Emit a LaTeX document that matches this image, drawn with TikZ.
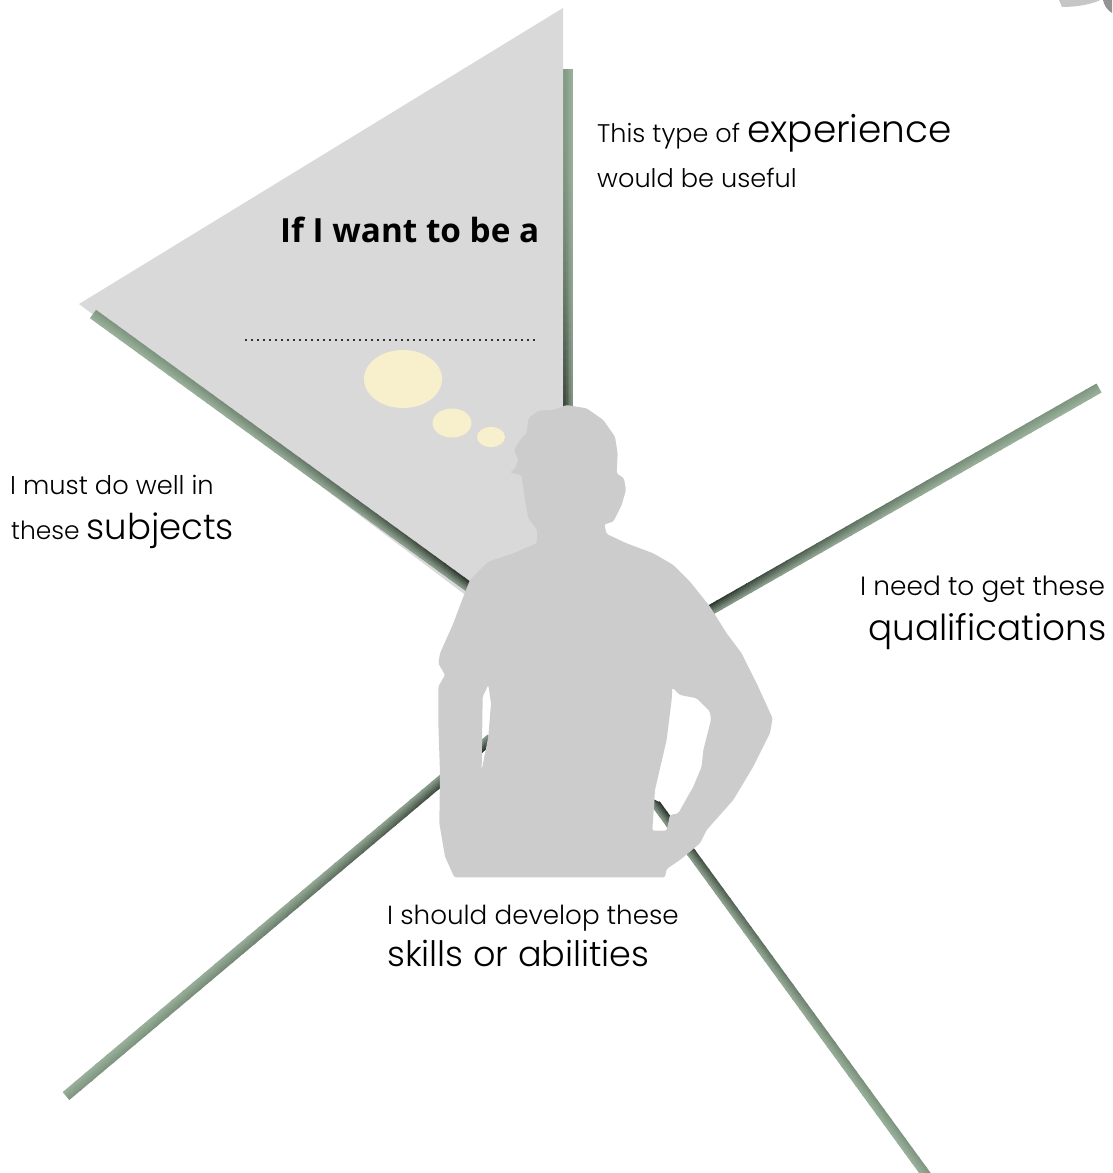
\documentclass[tikz,border=0pt]{standalone}
\usepackage{fontspec}
\setmainfont{Poppins Light}
\newfontfamily\boldlab{Open Sans}
\definecolor{panel}{HTML}{D9D9D9}
\definecolor{person}{HTML}{CCCCCC}
\definecolor{bubble}{HTML}{F8F0CC}
\definecolor{lightgreen}{HTML}{97AE98}
\definecolor{midgreen}{HTML}{7F9681}
\definecolor{darkend}{HTML}{262E27}
\definecolor{lightend}{HTML}{7D8F7F}
\newcommand{\fs}[1]{\fontsize{#1}{#1}\selectfont}
% gradient bar: #1 outer point, #2 inner point, #3 width, #4 side of the dark edge (+1/-1)
\newcommand{\gbar}[4]{%
  \foreach \ii in {1,...,6}{%
    \pgfmathsetmacro{\off}{(#4)*(\ii-3.5)*(#3)/6}%
    \pgfmathsetmacro{\edge}{(\ii-1)/5*100}%
    \foreach \jj in {1,...,40}{%
      \pgfmathsetmacro{\tA}{(\jj-1)/40}%
      \pgfmathsetmacro{\tB}{\jj/40+0.004}%
      \pgfmathsetmacro{\fade}{100*pow((\jj-0.5)/40,2.2)}%
      \colorlet{cA}{lightgreen!\edge!midgreen}%
      \colorlet{cB}{lightend!\edge!darkend}%
      \draw[draw=cB!\fade!cA,line width=(#3)/6*1pt+0.35pt,line cap=butt]
        ($(#1)!\tA!(#2)!\off pt!90:(#2)$) -- ($(#1)!\tB!(#2)!\off pt!90:(#2)$);
    }%
  }%
}
\usetikzlibrary{calc}
\tikzset{
  lab/.style={anchor=base west,inner sep=0pt,text=black},
  thought/.style={fill=bubble,draw=none},
}
\begin{document}
\begin{tikzpicture}[x=1pt,y=-1pt]
\useasboundingbox (0,0) rectangle (1112,1173);
% corner fragments
\fill[gray!45] (1059,0) -- (1100,0) .. controls (1095,3) and (1080,7) .. (1062,7) -- cycle;
\fill[gray!85] (1103,0) .. controls (1104,5) and (1107,10) .. (1112,13) -- (1112,0) -- cycle;
% bars and panel
\coordinate (vO) at (568,69);   \coordinate (vI) at (568,420);
\coordinate (lO) at (93,314);   \coordinate (lI) at (480,595);
\coordinate (rO) at (1099,388); \coordinate (rI) at (700,616);
\coordinate (blO) at (66,1096); \coordinate (blI) at (500,731);
\coordinate (brO) at (930,1180);\coordinate (brI) at (650,796);
\gbar{vO}{vI}{10}{1}
\fill[panel] (563,8) -- (79,304) -- (480,606) -- (563,606) -- cycle;
\gbar{lO}{lI}{10}{-1}
\gbar{rO}{rI}{10}{1}
\gbar{blO}{blI}{10}{1}
\gbar{brO}{brI}{9}{1}
% thought bubbles
\fill[thought] (403,379) ellipse [x radius=39,y radius=29];
\fill[thought] (452,423) ellipse [x radius=19.5,y radius=14.5];
\fill[thought] (491,437) ellipse [x radius=14,y radius=10];
% dotted answer line
\coordinate (dotA) at (245,340); \coordinate (dotB) at (538,340);
\draw[black!80,line width=1.6pt,dash pattern=on 1.6pt off 4.4pt] (dotA) -- (dotB);
% person silhouette
\fill[person,even odd rule,rounded corners=1.5pt,shift={(420,390)},x=0.3333pt,y=-0.3333pt]
 (440,45) -- (500,55) -- (550,90) -- (585,140) -- (593,190) -- (590,250) -- (612,265) -- (618,300)
 -- (605,345) -- (580,395) -- (553,403) -- (560,432) -- (620,460) -- (700,490) -- (760,525)
 -- (810,575) -- (870,650) -- (920,730) -- (965,790) -- (1010,880) -- (1058,985) -- (1050,1030)
 -- (1000,1130) -- (940,1230) -- (860,1320) -- (840,1360) -- (780,1410) -- (740,1437) -- (735,1462)
 -- (103,1462) -- (75,1400) -- (58,1300) -- (60,1150) -- (55,1000) -- (55,890) -- (75,855)
 -- (55,820) -- (60,790) -- (100,700) -- (130,620) -- (150,570) -- (205,515) -- (280,490)
 -- (350,460) -- (352,420) -- (325,385) -- (315,330) -- (305,255) -- (270,248) -- (285,235)
 -- (295,210) -- (282,180) -- (300,150) -- (320,130) -- (325,85) -- (355,62) -- (400,60) -- cycle
 (205,885) -- (213,940) -- (205,1040) -- (185,1140) -- (188,920) -- cycle
 (757,893) -- (780,915) -- (830,925) -- (870,965) -- (873,990) -- (850,1080) -- (845,1130)
 -- (820,1190) -- (775,1270) -- (750,1275) -- (740,1322) -- (697,1322) -- (705,1200) -- (740,1050)
 -- (755,930) -- cycle;
% text
\node[lab] (t1) at (597,142) {\fs{25.5}This type of \fs{37.5}experience};
\node[lab] (t2) at (597,187) {\fs{25.6}would be useful};
\node[lab] (t3) at (280,242) {\boldlab\bfseries\fs{33.3}If I want to be a};
\node[lab] (t4) at (10,494) {\fs{25.7}I must do well in};
\node[lab] (t5) at (11,539) {\fs{25}these \fs{35.5}subjects};
\node[lab] (t6) at (860,595) {\fs{26.4}I need to get these};
\node[lab] (t7) at (868,640) {\fs{35.8}qualifications};
\node[lab] (t8) at (387,924) {\fs{26.2}I should develop these};
\node[lab] (t9) at (387,966) {\fs{35}skills or abilities};
\end{tikzpicture}
\end{document}
